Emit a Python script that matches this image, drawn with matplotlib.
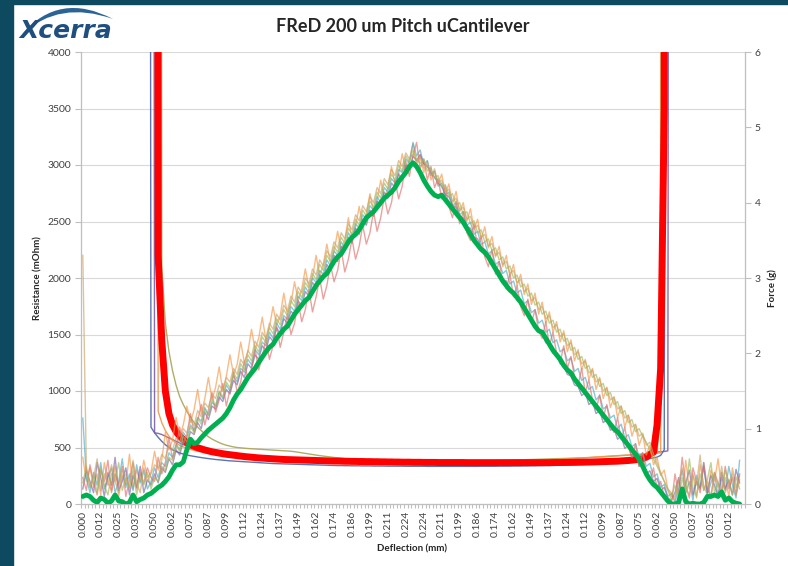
import numpy as np
import matplotlib
matplotlib.use("Agg")
import matplotlib.pyplot as plt
from matplotlib.patches import Rectangle, PathPatch
from matplotlib.path import Path

plt.rcParams['font.family'] = ['Lato', 'DejaVu Sans']

na = np.nan

# x axis labels (deflection in mm), one every 5 categories
x_labels = ["0.000", "0.012", "0.025", "0.037", "0.050", "0.062", "0.075", "0.087", "0.099",
            "0.112", "0.124", "0.137", "0.149", "0.162", "0.174", "0.186", "0.199", "0.211",
            "0.224", "0.224", "0.211", "0.199", "0.186", "0.174", "0.162", "0.149", "0.137",
            "0.124", "0.112", "0.099", "0.087", "0.075", "0.062", "0.050", "0.037", "0.025",
            "0.012"]
n_cat = 185

# average force (g), right axis
force_avg = [
    0.10, 0.12, 0.10, 0.05, 0.02, 0.08, 0.06, 0.01, 0.04, 0.12,
    0.04, 0.03, 0.00, 0.02, 0.12, 0.03, 0.06, 0.08, 0.12, 0.14,
    0.18, 0.22, 0.25, 0.30, 0.36, 0.45, 0.52, 0.52, 0.56, 0.72,
    0.86, 0.80, 0.82, 0.88, 0.93, 0.98, 1.02, 1.06, 1.10, 1.14,
    1.20, 1.28, 1.38, 1.46, 1.52, 1.60, 1.68, 1.74, 1.80, 1.88,
    1.95, 2.02, 2.08, 2.12, 2.20, 2.26, 2.32, 2.36, 2.44, 2.52,
    2.58, 2.64, 2.70, 2.74, 2.82, 2.90, 2.96, 3.02, 3.06, 3.14,
    3.22, 3.28, 3.32, 3.40, 3.48, 3.54, 3.58, 3.64, 3.72, 3.80,
    3.84, 3.88, 3.94, 4.00, 4.06, 4.10, 4.14, 4.20, 4.28, 4.34,
    4.40, 4.48, 4.53, 4.48, 4.40, 4.30, 4.22, 4.15, 4.10, 4.08,
    4.10, 4.04, 3.98, 3.92, 3.86, 3.80, 3.74, 3.66, 3.58, 3.50,
    3.44, 3.38, 3.34, 3.28, 3.20, 3.12, 3.04, 2.96, 2.90, 2.84,
    2.80, 2.74, 2.68, 2.60, 2.52, 2.44, 2.36, 2.30, 2.28, 2.20,
    2.12, 2.04, 1.98, 1.92, 1.84, 1.78, 1.74, 1.66, 1.60, 1.54,
    1.48, 1.42, 1.36, 1.30, 1.24, 1.18, 1.12, 1.06, 1.00, 0.96,
    0.90, 0.84, 0.78, 0.72, 0.66, 0.60, 0.50, 0.40, 0.32, 0.26,
    0.22, 0.16, 0.10, 0.04, 0.00, 0.00, 0.02, 0.20, 0.03, 0.00,
    0.01, 0.00, 0.00, 0.02, 0.10, 0.10, 0.12, 0.10, 0.16, 0.05,
    0.08, 0.03, 0.01, 0.00, na]

# individual force runs (g)
force_1 = [
    0.62, 0.30, 0.48, 0.22, 0.40, 0.12, 0.55, 0.28, 0.18, 0.50,
    0.10, 0.38, 0.26, 0.66, 0.20, 0.45, 0.30, 0.58, 0.35, 0.42,
    0.70, 0.45, 0.58, 0.95, 0.72, 0.85, 1.15, 0.90, 1.05, 1.30,
    1.08, 1.25, 1.52, 1.20, 1.40, 1.68, 1.38, 1.55, 1.82, 1.50,
    1.70, 1.98, 1.72, 1.85, 2.15, 1.88, 2.02, 2.32, 2.05, 2.20,
    2.48, 2.18, 2.35, 2.62, 2.38, 2.50, 2.80, 2.52, 2.66, 2.95,
    2.70, 2.85, 3.12, 2.88, 3.00, 3.30, 3.02, 3.18, 3.45, 3.20,
    3.35, 3.62, 3.38, 3.50, 3.80, 3.52, 3.68, 3.95, 3.70, 3.85,
    4.12, 3.88, 4.02, 4.30, 4.05, 4.20, 4.48, 4.25, 4.38, 4.65,
    4.42, 4.58, 4.78, 4.50, 4.62, 4.40, 4.55, 4.30, 4.45, 4.25,
    4.38, 4.12, 4.25, 3.98, 4.15, 3.88, 4.00, 3.75, 3.92, 3.65,
    3.78, 3.52, 3.68, 3.40, 3.55, 3.28, 3.42, 3.15, 3.30, 3.02,
    3.18, 2.90, 3.05, 2.78, 2.92, 2.65, 2.80, 2.52, 2.68, 2.40,
    2.55, 2.28, 2.42, 2.15, 2.30, 2.02, 2.18, 1.90, 2.05, 1.78,
    1.92, 1.65, 1.80, 1.52, 1.68, 1.40, 1.55, 1.28, 1.42, 1.15,
    1.30, 1.02, 1.18, 0.90, 1.05, 0.78, 0.92, 0.65, 0.78, 0.52,
    0.62, 0.38, 0.45, 0.20, 0.15, 0.05, 0.32, 0.10, 0.58, 0.20,
    0.40, 0.08, 0.52, 0.25, 0.12, 0.45, 0.30, 0.60, 0.18, 0.35,
    0.10, 0.48, 0.22, 0.38, na]
force_2 = [
    1.14, 0.35, 0.15, 0.42, 0.25, 0.55, 0.20, 0.35, 0.48, 0.15,
    0.30, 0.60, 0.22, 0.40, 0.18, 0.52, 0.28, 0.45, 0.20, 0.30,
    0.48, 0.35, 0.55, 0.50, 0.68, 0.62, 0.80, 0.72, 0.95, 0.88,
    1.05, 0.98, 1.15, 1.10, 1.28, 1.18, 1.35, 1.30, 1.48, 1.40,
    1.58, 1.50, 1.70, 1.62, 1.80, 1.75, 1.92, 1.85, 2.05, 1.98,
    2.15, 2.10, 2.28, 2.20, 2.40, 2.32, 2.50, 2.45, 2.62, 2.56,
    2.76, 2.70, 2.88, 2.80, 3.00, 2.94, 3.10, 3.05, 3.24, 3.16,
    3.36, 3.30, 3.48, 3.40, 3.60, 3.52, 3.72, 3.66, 3.84, 3.78,
    3.96, 3.90, 4.08, 4.00, 4.20, 4.14, 4.32, 4.26, 4.44, 4.40,
    4.58, 4.52, 4.80, 4.62, 4.70, 4.50, 4.56, 4.36, 4.42, 4.22,
    4.26, 4.10, 4.14, 3.96, 4.00, 3.84, 3.88, 3.70, 3.74, 3.58,
    3.62, 3.44, 3.48, 3.32, 3.36, 3.18, 3.22, 3.06, 3.10, 2.92,
    2.96, 2.80, 2.84, 2.66, 2.70, 2.54, 2.58, 2.40, 2.44, 2.28,
    2.32, 2.14, 2.18, 2.02, 2.06, 1.90, 1.94, 1.76, 1.80, 1.64,
    1.68, 1.52, 1.56, 1.38, 1.44, 1.26, 1.30, 1.14, 1.18, 1.00,
    1.06, 0.88, 0.92, 0.76, 0.80, 0.62, 0.68, 0.50, 0.54, 0.36,
    0.40, 0.22, 0.26, 0.10, 0.14, 0.02, 0.20, 0.45, 0.15, 0.30,
    0.05, 0.38, 0.22, 0.55, 0.12, 0.28, 0.40, 0.10, 0.35, 0.18,
    0.50, 0.25, 0.08, 0.58, na]
force_3 = [
    0.20, 0.45, 0.30, 0.15, 0.55, 0.35, 0.10, 0.42, 0.25, 0.62,
    0.18, 0.30, 0.48, 0.12, 0.38, 0.22, 0.50, 0.15, 0.32, 0.25,
    0.40, 0.28, 0.48, 0.42, 0.60, 0.52, 0.72, 0.65, 0.84, 0.78,
    0.96, 0.92, 1.08, 1.00, 1.22, 1.12, 1.30, 1.26, 1.42, 1.36,
    1.52, 1.46, 1.64, 1.58, 1.76, 1.68, 1.86, 1.80, 1.98, 1.92,
    2.10, 2.04, 2.22, 2.16, 2.34, 2.26, 2.46, 2.40, 2.56, 2.50,
    2.70, 2.62, 2.82, 2.76, 2.94, 2.88, 3.04, 2.98, 3.18, 3.10,
    3.30, 3.22, 3.42, 3.36, 3.54, 3.46, 3.66, 3.58, 3.78, 3.70,
    3.90, 3.82, 4.02, 3.96, 4.14, 4.06, 4.26, 4.20, 4.38, 4.30,
    4.50, 4.44, 4.62, 4.56, 4.64, 4.52, 4.48, 4.40, 4.34, 4.26,
    4.22, 4.10, 4.08, 3.96, 3.94, 3.82, 3.80, 3.68, 3.66, 3.54,
    3.52, 3.40, 3.38, 3.26, 3.24, 3.12, 3.10, 2.98, 2.96, 2.84,
    2.82, 2.70, 2.68, 2.56, 2.54, 2.42, 2.40, 2.28, 2.26, 2.14,
    2.12, 2.00, 1.98, 1.86, 1.84, 1.72, 1.70, 1.58, 1.56, 1.44,
    1.48, 1.32, 1.36, 1.20, 1.24, 1.08, 1.12, 0.98, 1.00, 0.86,
    0.90, 0.74, 0.78, 0.62, 0.66, 0.50, 0.56, 0.40, 0.44, 0.30,
    0.34, 0.18, 0.22, 0.08, 0.05, 0.15, 0.35, 0.10, 0.28, 0.45,
    0.12, 0.30, 0.20, 0.50, 0.15, 0.38, 0.25, 0.10, 0.42, 0.20,
    0.32, 0.12, 0.46, 0.28, na]
force_4 = [
    0.35, 0.18, 0.52, 0.28, 0.12, 0.45, 0.30, 0.58, 0.15, 0.40,
    0.25, 0.50, 0.10, 0.32, 0.55, 0.20, 0.42, 0.28, 0.48, 0.35,
    0.30, 0.62, 0.40, 0.55, 0.88, 0.60, 0.75, 1.02, 0.80, 0.92,
    1.20, 0.95, 1.10, 1.32, 1.05, 1.25, 1.48, 1.22, 1.38, 1.60,
    1.30, 1.52, 1.75, 1.48, 1.62, 1.90, 1.65, 1.80, 2.05, 1.78,
    1.95, 2.20, 1.92, 2.10, 2.36, 2.08, 2.28, 2.52, 2.25, 2.40,
    2.68, 2.42, 2.58, 2.85, 2.55, 2.75, 3.00, 2.72, 2.90, 3.18,
    2.95, 3.10, 3.38, 3.08, 3.25, 3.52, 3.25, 3.42, 3.70, 3.45,
    3.60, 3.88, 3.62, 3.80, 4.08, 3.85, 4.00, 4.30, 4.05, 4.22,
    4.55, 4.35, 4.62, 4.80, 4.45, 4.58, 4.30, 4.48, 4.20, 4.32,
    4.05, 4.22, 3.95, 3.80, 4.02, 3.72, 3.88, 3.60, 3.50, 3.72,
    3.40, 3.55, 3.28, 3.15, 3.38, 3.05, 3.22, 2.95, 2.85, 3.05,
    2.75, 2.90, 2.62, 2.50, 2.72, 2.40, 2.58, 2.30, 2.20, 2.42,
    2.10, 2.28, 2.00, 1.88, 2.10, 1.80, 1.96, 1.68, 1.58, 1.80,
    1.48, 1.65, 1.38, 1.25, 1.45, 1.15, 1.32, 1.05, 0.95, 1.15,
    0.85, 1.02, 0.75, 0.62, 0.80, 0.50, 0.68, 0.40, 0.30, 0.48,
    0.20, 0.30, 0.10, 0.02, 0.00, 0.40, 0.12, 0.62, 0.25, 0.08,
    0.48, 0.30, 0.15, 0.55, 0.22, 0.10, 0.42, 0.28, 0.15, 0.50,
    0.20, 0.35, 0.12, 0.40, na]
force_5 = [
    0.28, 0.50, 0.22, 0.38, 0.15, 0.48, 0.25, 0.12, 0.40, 0.30,
    0.55, 0.18, 0.35, 0.22, 0.45, 0.12, 0.38, 0.25, 0.42, 0.20,
    0.35, 0.30, 0.50, 0.45, 0.62, 0.58, 0.78, 0.70, 0.90, 0.82,
    1.02, 0.95, 1.14, 1.06, 1.26, 1.18, 1.38, 1.30, 1.50, 1.42,
    1.62, 1.54, 1.74, 1.66, 1.86, 1.78, 1.98, 1.90, 2.10, 2.02,
    2.22, 2.14, 2.34, 2.26, 2.46, 2.38, 2.58, 2.50, 2.70, 2.62,
    2.82, 2.74, 2.94, 2.86, 3.06, 2.98, 3.18, 3.10, 3.30, 3.22,
    3.42, 3.34, 3.54, 3.46, 3.66, 3.58, 3.78, 3.70, 3.90, 3.82,
    4.02, 3.94, 4.14, 4.06, 4.26, 4.18, 4.38, 4.30, 4.50, 4.42,
    4.62, 4.54, 4.70, 4.58, 4.52, 4.58, 4.42, 4.46, 4.32, 4.36,
    4.20, 4.24, 4.08, 4.12, 3.96, 4.00, 3.84, 3.88, 3.72, 3.76,
    3.60, 3.64, 3.48, 3.52, 3.36, 3.40, 3.24, 3.28, 3.12, 3.16,
    3.00, 3.04, 2.88, 2.92, 2.76, 2.80, 2.64, 2.68, 2.52, 2.56,
    2.40, 2.44, 2.28, 2.32, 2.16, 2.20, 2.04, 2.08, 1.92, 1.96,
    1.80, 1.84, 1.68, 1.72, 1.56, 1.60, 1.44, 1.48, 1.32, 1.36,
    1.20, 1.24, 1.08, 1.12, 0.96, 1.00, 0.90, 0.82, 0.72, 0.60,
    0.50, 0.40, 0.30, 0.20, 0.10, 0.25, 0.05, 0.35, 0.15, 0.60,
    0.22, 0.10, 0.40, 0.18, 0.32, 0.55, 0.15, 0.28, 0.08, 0.45,
    0.30, 0.12, 0.36, 0.20, na]
force_6 = [
    3.30, 0.45, 0.22, 0.35, 0.60, 0.18, 0.40, 0.25, 0.52, 0.30,
    0.15, 0.45, 0.38, 0.20, 0.58, 0.28, 0.15, 0.48, 0.30, 0.40,
    0.52, 0.48, 0.66, 0.60, 0.78, 0.72, 0.88, 0.82, 1.00, 0.94,
    1.12, 1.04, 1.24, 1.16, 1.34, 1.28, 1.46, 1.40, 1.58, 1.50,
    1.68, 1.62, 1.80, 1.72, 1.92, 1.84, 2.04, 1.96, 2.16, 2.08,
    2.28, 2.20, 2.40, 2.32, 2.52, 2.44, 2.64, 2.56, 2.76, 2.68,
    2.88, 2.80, 3.00, 2.92, 3.12, 3.04, 3.24, 3.16, 3.36, 3.28,
    3.48, 3.40, 3.60, 3.52, 3.72, 3.64, 3.84, 3.76, 3.96, 3.88,
    4.08, 4.00, 4.20, 4.12, 4.32, 4.24, 4.44, 4.36, 4.56, 4.48,
    4.66, 4.58, 4.64, 4.54, 4.60, 4.46, 4.50, 4.36, 4.40, 4.26,
    4.30, 4.14, 4.18, 4.02, 4.06, 3.90, 3.94, 3.78, 3.82, 3.66,
    3.70, 3.54, 3.58, 3.42, 3.46, 3.30, 3.34, 3.18, 3.22, 3.06,
    3.10, 2.94, 2.98, 2.82, 2.86, 2.70, 2.74, 2.58, 2.62, 2.46,
    2.50, 2.34, 2.38, 2.22, 2.26, 2.10, 2.14, 1.98, 2.02, 1.86,
    1.90, 1.74, 1.78, 1.62, 1.66, 1.50, 1.54, 1.38, 1.42, 1.26,
    1.30, 1.14, 1.18, 1.02, 1.06, 0.90, 0.94, 0.78, 0.82, 0.66,
    0.54, 0.42, 0.30, 0.18, 0.06, 0.10, 0.30, 0.48, 0.20, 0.12,
    0.38, 0.25, 0.65, 0.18, 0.30, 0.08, 0.42, 0.22, 0.50, 0.15,
    0.28, 0.40, 0.12, 0.32, na]

# average contact resistance (mOhm), left axis; open contact = 30000
res_avg = [na] * 20 + [
    30000, 2200, 1450, 1000, 800, 700, 640, 600, 570, 545,
    525, 510, 498, 488, 478, 470, 462, 456, 450, 445,
    440, 436, 432, 428, 424, 420, 417, 414, 411, 408,
    406, 404, 402, 400, 398, 396, 394, 393, 392, 391,
    390, 389, 388, 387, 386, 385, 384, 383, 382, 381,
    380, 380, 379, 378, 378, 377, 377, 376, 376, 375,
    375, 374, 374, 373, 373, 372, 372, 371, 371, 370,
    370, 370, 369, 369, 369, 368, 368, 368, 368, 367,
    367, 367, 367, 367, 367, 367, 367, 366, 366, 366,
    366, 366, 366, 366, 366, 366, 366, 366, 366, 366,
    366, 366, 366, 366, 366, 366, 366, 366, 366, 366,
    366, 367, 367, 367, 368, 368, 369, 369, 370, 370,
    371, 371, 372, 373, 374, 375, 376, 377, 378, 379,
    381, 383, 385, 388, 392, 396, 402, 415, 440, 458,
    700, 1200, 3500, 30000] + [na] * 21

# individual resistance runs (mOhm)
res_1 = [na] * 18 + [
    30000, 680,
    630, 590, 555, 525, 500, 480, 465, 452, 442, 434,
    427, 421, 416, 411, 406, 402, 398, 394, 391, 388,
    385, 382, 380, 378, 376, 374, 372, 370, 368, 366,
    364, 362, 360, 358, 357, 356, 355, 354, 353, 352,
    351, 350, 349, 348, 347, 346, 345, 344, 343, 342,
    341, 340, 340, 339, 339, 338, 338, 338, 337, 337,
    337, 336, 336, 336, 336, 335, 335, 335, 335, 335,
    334, 334, 334, 334, 334, 334, 333, 333, 333, 333,
    333, 333, 333, 333, 333, 333, 333, 333, 333, 333,
    333, 334, 334, 334, 334, 334, 335, 335, 335, 335,
    336, 336, 336, 337, 337, 338, 338, 339, 339, 340,
    340, 341, 342, 343, 344, 345, 346, 347, 348, 349,
    350, 352, 354, 356, 358, 360, 362, 364, 366, 368,
    371, 374, 377, 380, 384, 388, 392, 397, 402, 408,
    415, 430, 480, 30000] + [na] * 21
res_2 = [na] * 19 + [
    30000,
    630, 625, 615, 600, 585, 570, 555, 540, 525, 512,
    500, 490, 481, 473, 466, 460, 454, 449, 444, 440,
    436, 432, 428, 425, 422, 419, 416, 413, 410, 408,
    406, 404, 402, 400, 398, 396, 394, 392, 391, 390,
    389, 388, 387, 386, 385, 384, 383, 382, 381, 380,
    379, 378, 377, 376, 375, 374, 373, 372, 372, 371,
    371, 370, 370, 369, 369, 368, 368, 368, 367, 367,
    367, 366, 366, 366, 366, 366, 365, 365, 365, 365,
    365, 365, 365, 365, 365, 365, 365, 365, 365, 365,
    366, 366, 366, 366, 366, 367, 367, 367, 367, 368,
    368, 368, 369, 369, 370, 370, 371, 371, 372, 372,
    373, 374, 375, 376, 377, 378, 379, 380, 381, 382,
    383, 384, 385, 386, 388, 390, 392, 394, 396, 398,
    400, 403, 406, 409, 412, 416, 420, 440, 455, 458,
    460, 462, 465, 470, 30000] + [na] * 20
res_3 = [na] * 21 + [
    30000, 2100, 1600, 1350, 1180, 1050, 950, 880, 820,
    770, 720, 680, 650, 620, 595, 575, 558, 543, 530,
    520, 512, 505, 500, 497, 494, 491, 489, 487, 485,
    483, 481, 479, 477, 475, 473, 471, 469, 467, 463,
    458, 453, 448, 443, 438, 433, 428, 424, 420, 416,
    412, 409, 406, 403, 400, 398, 396, 394, 392, 390,
    389, 388, 387, 386, 385, 384, 383, 382, 381, 380,
    380, 379, 379, 378, 378, 378, 377, 377, 377, 377,
    377, 377, 377, 378, 378, 378, 379, 379, 380, 380,
    381, 381, 382, 382, 383, 384, 385, 386, 387, 388,
    389, 390, 391, 392, 393, 394, 395, 396, 397, 398,
    399, 400, 401, 402, 403, 404, 405, 406, 407, 408,
    409, 410, 412, 414, 416, 418, 420, 422, 424, 426,
    428, 430, 432, 434, 436, 438, 440, 442, 444, 446,
    448, 900, 30000] + [na] * 22
res_4 = [na] * 20 + [
    30000, 820, 720, 650, 600, 565, 540, 520, 505, 492,
    482, 474, 467, 461, 456, 451, 447, 443, 440, 437,
    434, 431, 428, 426, 424, 422, 420, 418, 416, 414,
    412, 410, 408, 406, 404, 402, 400, 398, 397, 396,
    395, 394, 393, 392, 391, 390, 389, 388, 387, 386,
    385, 384, 383, 382, 381, 380, 380, 379, 379, 378,
    378, 377, 377, 376, 376, 375, 375, 375, 374, 374,
    374, 373, 373, 373, 373, 373, 373, 373, 373, 373,
    374, 374, 374, 374, 375, 375, 375, 376, 376, 376,
    377, 377, 378, 378, 379, 379, 380, 381, 382, 383,
    384, 385, 386, 387, 388, 389, 390, 391, 392, 393,
    394, 395, 396, 397, 398, 400, 402, 404, 406, 408,
    410, 412, 414, 416, 418, 420, 422, 424, 426, 428,
    430, 432, 434, 436, 438, 440, 442, 444, 446, 448,
    450, 452, 30000] + [na] * 22

W, H = 788, 566
fig = plt.figure(figsize=(W / 100, H / 100), dpi=100, facecolor='white')

def fx(px):
    return px / W

def fy(py):
    return 1 - py / H

# dark frame of the slide
fig.patches.append(Rectangle((0, 0), fx(13), 1, transform=fig.transFigure, color='#0d4a5f', zorder=0))
fig.patches.append(Rectangle((0, fy(4)), 1, 4 / H, transform=fig.transFigure, color='#0d4a5f', zorder=0))

ax = fig.add_axes([fx(81), fy(504), fx(745) - fx(81), fy(52) - fy(504)])
ax2 = ax.twinx()

res_thin = [(res_1, '#4a64a8'), (res_2, '#7b5ea6'), (res_3, '#a7a556'), (res_4, '#f0964c')]
for s, c in res_thin:
    ax.plot(np.arange(len(s)), s, color=c, lw=1.0, alpha=0.9, zorder=2)
ax.plot(np.arange(len(res_avg)), res_avg, color='#ff0000', lw=5, zorder=3,
        solid_joinstyle='round', solid_capstyle='round')

force_thin = [(force_1, '#f79646'), (force_2, '#4bacc6'), (force_3, '#8064a2'),
              (force_4, '#e0706c'), (force_5, '#9bbb59'), (force_6, '#c9a46a')]
for s, c in force_thin:
    ax2.plot(np.arange(len(s)), s, color=c, lw=1.0, alpha=0.65, zorder=2)
ax2.plot(np.arange(len(force_avg)), force_avg, color='#00b050', lw=3.5, zorder=4,
         solid_joinstyle='round', solid_capstyle='round')

ax.set_xlim(-0.5, n_cat - 0.5)
ax.set_ylim(0, 4000)
ax.set_yticks(np.arange(0, 4001, 500))
ax2.set_ylim(0, 6)
ax2.set_yticks(np.arange(0, 7, 1))

ax.yaxis.grid(True, color='#d9d9d9', lw=0.8)
ax.set_axisbelow(True)

grey = '#bfbfbf'
for a in (ax, ax2):
    for side in ('top', 'left', 'right', 'bottom'):
        a.spines[side].set_visible(False)
ax.spines['left'].set_visible(True)
ax.spines['bottom'].set_visible(True)
ax2.spines['right'].set_visible(True)
for sp in (ax.spines['left'], ax.spines['bottom'], ax2.spines['right']):
    sp.set_color(grey)
    sp.set_linewidth(0.9)

ax.tick_params(axis='y', length=4, color=grey, labelsize=7.5, labelcolor='#404040', pad=3)
ax2.tick_params(axis='y', length=4, color=grey, labelsize=7.5, labelcolor='#404040', pad=3)

# category tick marks between every category, labels every 5th
ax.set_xticks(np.arange(-0.5, n_cat, 1))
ax.set_xticklabels([])
ax.tick_params(axis='x', which='major', length=3, color=grey)
ax.set_xticks(np.arange(0, n_cat, 5)[:len(x_labels)], x_labels, minor=True)
ax.tick_params(axis='x', which='minor', length=0, pad=5, labelsize=7.5, labelcolor='#404040',
               labelrotation=90)

fig.text(fx(403), fy(27), 'FReD 200 um Pitch uCantilever', ha='center', va='center',
         fontsize=13, fontweight='bold', color='#262626')
fig.text(fx(38), fy(278), 'Resistance (mOhm)', rotation=90, ha='center', va='center',
         fontsize=7, fontweight='bold', color='#262626')
fig.text(fx(772), fy(288), 'Force (g)', rotation=90, ha='center', va='center',
         fontsize=7, fontweight='bold', color='#262626')
fig.text(fx(412), fy(549), 'Deflection (mm)', ha='center', va='center',
         fontsize=7, fontweight='bold', color='#262626')

# logo: swoosh + word mark
swoosh = Path([(fx(22), fy(34)), (fx(59.5), fy(-9)), (fx(113), fy(19)),
               (fx(59.5), fy(0)), (fx(22), fy(34)), (fx(22), fy(34))],
              [Path.MOVETO, Path.CURVE3, Path.CURVE3, Path.CURVE3, Path.CURVE3, Path.CLOSEPOLY])
fig.patches.append(PathPatch(swoosh, transform=fig.transFigure, facecolor='#2a6496',
                             edgecolor='none', zorder=1))
fig.text(fx(19), fy(38), 'Xcerra', fontsize=18, fontweight='bold', fontstyle='italic',
         family='DejaVu Sans', color='#1f4f7e', ha='left', va='baseline')

fig.savefig('out.png', dpi=100, facecolor='white')
